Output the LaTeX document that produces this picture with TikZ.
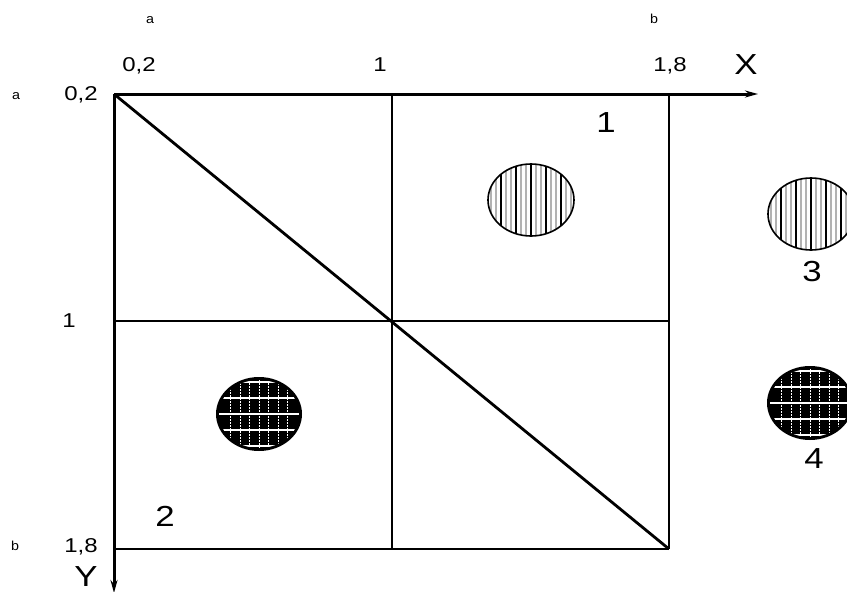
\documentclass[tikz,border=0pt]{standalone}
\usepackage{fontspec}
\setmainfont{Liberation Sans}
\usetikzlibrary{arrows.meta}
\tikzset{
  axis/.style={line width=3pt,-{Stealth[length=13pt,width=7pt]}},
  grid/.style={line width=1.1pt},
  diag/.style={line width=2.8pt},
  num/.style={font=\fontsize{20}{20}\selectfont, inner sep=0pt, xscale=1.2},
  tiny/.style={font=\fontsize{13}{13}\selectfont, inner sep=0pt, xscale=1.1},
  big/.style={font=\fontsize{29}{29}\selectfont, inner sep=0pt, xscale=1.2},
  ellout/.style={line width=1.6pt}
}
\newcommand{\hatchell}[3]{%
  \begin{scope}
    \clip (#1,#2) ellipse [x radius=43, y radius=36];
    \foreach \k in {-9,...,9}{
      \pgfmathtruncatemacro{\m}{mod(\k+9,3)}
      \ifnum\m=0
        \draw[black,line width=1.2pt] ({#1+\k*5},{#2-40}) -- ({#1+\k*5},{#2+40});
      \else
        \draw[gray!60,line width=1.2pt] ({#1+\k*5},{#2-40}) -- ({#1+\k*5},{#2+40});
      \fi
    }
  \end{scope}
  \draw[ellout] (#1,#2) ellipse [x radius=43, y radius=36];
  \node[inner sep=0pt] (#3) at (#1,#2) {};
}
\newcommand{\gridell}[3]{%
  \fill[black] (#1,#2) ellipse [x radius=43, y radius=37];
  \begin{scope}
    \clip (#1,#2) ellipse [x radius=40, y radius=34];
    \foreach \k in {-3,...,3}{
      \draw[white,line width=0.9pt,dash pattern=on 1.5pt off 1.5pt] ({#1+\k*9.5},{#2-40}) -- ({#1+\k*9.5},{#2+40});
    }
    \foreach \k in {-2,...,2}{
      \draw[white,line width=1.1pt] ({#1-45},{#2+\k*16}) -- ({#1+45},{#2+\k*16});
    }
  \end{scope}
  \node[inner sep=0pt] (#3) at (#1,#2) {};
}
\begin{document}
\begin{tikzpicture}[x=1pt,y=-1pt]
\useasboundingbox[fill=white] (0,0) rectangle (847,592);
% key points
\coordinate (O) at (114,94);
\coordinate (xend) at (758,94);
\coordinate (yend) at (114,593);
\coordinate (mtop) at (392,94);
\coordinate (mbot) at (392,549);
\coordinate (rtop) at (669,94);
\coordinate (rbot) at (669,549);
\coordinate (mleft) at (114,321);
\coordinate (mright) at (669,321);
\coordinate (bleft) at (114,549);
% grid
\draw[grid] (mtop) -- (mbot);
\draw[grid] (rtop) -- (rbot);
\draw[grid] (mleft) -- (mright);
\draw[grid] (bleft) -- (rbot);
% axes
\draw[axis] (O) -- (xend);
\draw[axis] (O) -- (yend);
\draw[diag] (O) -- (rbot);
% ellipses
\hatchell{531}{200}{e1}
\gridell{259}{414}{e2}
\hatchell{811}{214}{e3}
\gridell{810}{403}{e4}
% labels top
\node[tiny] (ta) at (150,20) {a};
\node[tiny] (tb) at (654,19) {b};
\node[num] (t02) at (139,66) {0,2};
\node[num] (t1) at (380,65) {1};
\node[num] (t18) at (670,66) {1,8};
\node[big] (X) at (746,65) {X};
% labels left
\node[tiny] (la) at (16,96) {a};
\node[num] (l02) at (81,95) {0,2};
\node[num] (l1) at (69,321) {1};
\node[tiny] (lb) at (15,546) {b};
\node[num] (l18) at (81,547) {1,8};
\node[big] (Y) at (86,577) {Y};
% region numbers
\node[big] (n1) at (606,123) {1};
\node[big] (n2) at (165,516) {2};
\node[big] (n3) at (812,272) {3};
\node[big] (n4) at (814,459) {4};
\end{tikzpicture}
\end{document}
